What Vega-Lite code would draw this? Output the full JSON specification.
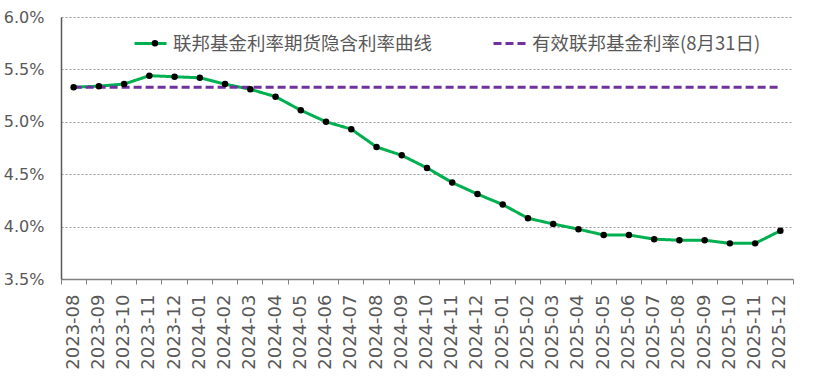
{
  "$schema": "https://vega.github.io/schema/vega-lite/v6.json",
  "width": 732,
  "height": 262,
  "autosize": "none",
  "padding": {"left": 61, "top": 17, "right": 42, "bottom": 110},
  "background": "white",
  "config": {"view": {"stroke": null}, "font": "DejaVu Sans"},
  "datasets": {
    "rates": [
      {"month": "2023-08", "series": "联邦基金利率期货隐含利率曲线", "value": 5.33},
      {"month": "2023-09", "series": "联邦基金利率期货隐含利率曲线", "value": 5.34},
      {"month": "2023-10", "series": "联邦基金利率期货隐含利率曲线", "value": 5.36},
      {"month": "2023-11", "series": "联邦基金利率期货隐含利率曲线", "value": 5.44},
      {"month": "2023-12", "series": "联邦基金利率期货隐含利率曲线", "value": 5.43},
      {"month": "2024-01", "series": "联邦基金利率期货隐含利率曲线", "value": 5.42},
      {"month": "2024-02", "series": "联邦基金利率期货隐含利率曲线", "value": 5.36},
      {"month": "2024-03", "series": "联邦基金利率期货隐含利率曲线", "value": 5.31},
      {"month": "2024-04", "series": "联邦基金利率期货隐含利率曲线", "value": 5.24},
      {"month": "2024-05", "series": "联邦基金利率期货隐含利率曲线", "value": 5.11},
      {"month": "2024-06", "series": "联邦基金利率期货隐含利率曲线", "value": 5.00},
      {"month": "2024-07", "series": "联邦基金利率期货隐含利率曲线", "value": 4.93},
      {"month": "2024-08", "series": "联邦基金利率期货隐含利率曲线", "value": 4.76},
      {"month": "2024-09", "series": "联邦基金利率期货隐含利率曲线", "value": 4.68},
      {"month": "2024-10", "series": "联邦基金利率期货隐含利率曲线", "value": 4.56},
      {"month": "2024-11", "series": "联邦基金利率期货隐含利率曲线", "value": 4.42},
      {"month": "2024-12", "series": "联邦基金利率期货隐含利率曲线", "value": 4.31},
      {"month": "2025-01", "series": "联邦基金利率期货隐含利率曲线", "value": 4.21},
      {"month": "2025-02", "series": "联邦基金利率期货隐含利率曲线", "value": 4.08},
      {"month": "2025-03", "series": "联邦基金利率期货隐含利率曲线", "value": 4.025},
      {"month": "2025-04", "series": "联邦基金利率期货隐含利率曲线", "value": 3.975},
      {"month": "2025-05", "series": "联邦基金利率期货隐含利率曲线", "value": 3.92},
      {"month": "2025-06", "series": "联邦基金利率期货隐含利率曲线", "value": 3.92},
      {"month": "2025-07", "series": "联邦基金利率期货隐含利率曲线", "value": 3.88},
      {"month": "2025-08", "series": "联邦基金利率期货隐含利率曲线", "value": 3.87},
      {"month": "2025-09", "series": "联邦基金利率期货隐含利率曲线", "value": 3.87},
      {"month": "2025-10", "series": "联邦基金利率期货隐含利率曲线", "value": 3.84},
      {"month": "2025-11", "series": "联邦基金利率期货隐含利率曲线", "value": 3.84},
      {"month": "2025-12", "series": "联邦基金利率期货隐含利率曲线", "value": 3.96},
      {"month": "2023-08", "series": "有效联邦基金利率(8月31日)", "value": 5.33},
      {"month": "2025-12", "series": "有效联邦基金利率(8月31日)", "value": 5.33}
    ]
  },
  "data": {"name": "rates"},
  "encoding": {
    "x": {
      "field": "month",
      "type": "ordinal",
      "scale": {"type": "band", "paddingInner": 0, "paddingOuter": 0},
      "axis": {
        "title": null,
        "labelAngle": 270,
        "labelFont": "DejaVu Sans",
        "labelFontSize": 18,
        "labelColor": "#595959",
        "labelPadding": 10,
        "ticks": true,
        "tickSize": 5,
        "tickColor": "#808080",
        "domainColor": "#808080",
        "domainWidth": 1.5,
        "bandPosition": 1,
        "tickExtra": true,
        "grid": false
      }
    },
    "y": {
      "field": "value",
      "type": "quantitative",
      "scale": {"domain": [3.5, 6.0], "nice": false, "zero": false},
      "axis": {
        "title": null,
        "values": [3.5, 4.0, 4.5, 5.0, 5.5, 6.0],
        "labelExpr": "format(datum.value, '.1f') + '%'",
        "labelFont": "DejaVu Sans",
        "labelFontSize": 16,
        "labelColor": "#595959",
        "labelPadding": 17,
        "ticks": false,
        "domainColor": "#595959",
        "domainWidth": 1.5,
        "grid": true,
        "gridDash": [2, 2],
        "gridColor": "#9a9a9a",
        "gridWidth": 1
      }
    }
  },
  "layer": [
    {
      "mark": {"type": "line", "strokeWidth": 3},
      "encoding": {
        "color": {
          "field": "series",
          "type": "nominal",
          "scale": {"domain": ["联邦基金利率期货隐含利率曲线", "有效联邦基金利率(8月31日)"], "range": ["#00B050", "#7030A0"]},
          "legend": {
            "orient": "none",
            "legendX": 72,
            "legendY": 9,
            "direction": "horizontal",
            "title": null,
            "symbolType": "stroke",
            "symbolSize": 1024,
            "symbolStrokeWidth": 3,
            "labelFont": "Noto Sans CJK SC",
            "labelFontSize": 18.5,
            "labelColor": "#595959",
            "labelOffset": 5,
            "labelLimit": 0,
            "columnPadding": 54,
            "padding": 0,
            "zindex": 0
          }
        },
        "strokeDash": {
          "field": "series",
          "type": "nominal",
          "scale": {"domain": ["联邦基金利率期货隐含利率曲线", "有效联邦基金利率(8月31日)"], "range": [[1, 0], [8, 4]]},
          "legend": {
            "orient": "none",
            "legendX": 72,
            "legendY": 9,
            "direction": "horizontal",
            "title": null,
            "symbolType": "stroke",
            "symbolSize": 1024,
            "symbolStrokeWidth": 3,
            "labelFont": "Noto Sans CJK SC",
            "labelFontSize": 18.5,
            "labelColor": "#595959",
            "labelOffset": 5,
            "labelLimit": 0,
            "columnPadding": 54,
            "padding": 0,
            "zindex": 0
          }
        }
      }
    },
    {
      "transform": [{"filter": "datum.series === '联邦基金利率期货隐含利率曲线'"}],
      "mark": {"type": "point", "filled": true, "color": "black", "opacity": 1, "size": 42},
      "encoding": {
        "shape": {
          "datum": "联邦基金利率期货隐含利率曲线点",
          "type": "nominal",
          "scale": {"range": ["circle"]},
          "legend": {
            "orient": "none",
            "legendX": 84.7,
            "legendY": 17,
            "title": null,
            "symbolSize": 42,
            "symbolFillColor": "black",
            "symbolStrokeWidth": 0,
            "labelExpr": "''",
            "labelFont": "Noto Sans CJK SC",
            "labelFontSize": 18.5,
            "labelOpacity": 0,
            "labelLimit": 0,
            "padding": 0,
            "zindex": 1
          }
        }
      }
    }
  ]
}
